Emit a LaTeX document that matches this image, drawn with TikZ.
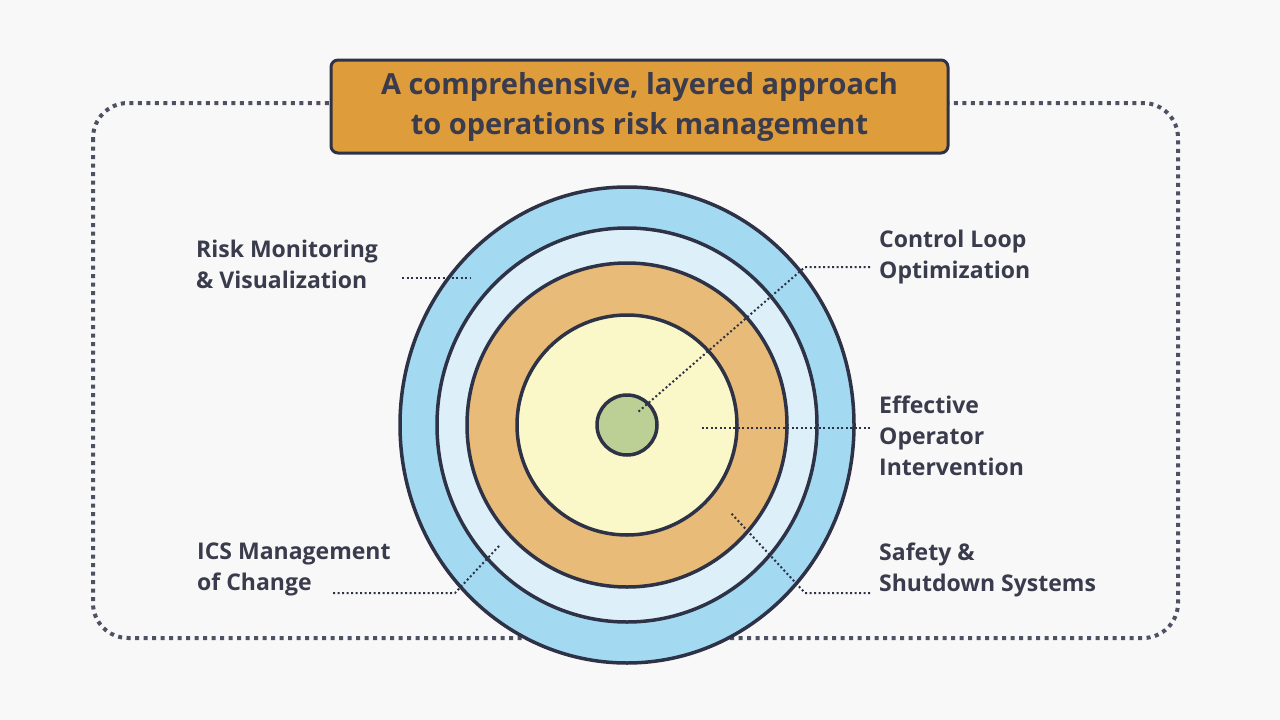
\documentclass[tikz,border=0pt]{standalone}
\usepackage{fontspec}
\setmainfont{Open Sans}
\definecolor{ink}{HTML}{2E3247}
\definecolor{txt}{HTML}{3A3B4C}
\definecolor{blueo}{HTML}{A4D9F2}
\definecolor{bluel}{HTML}{DDEFF8}
\definecolor{oran}{HTML}{E9BB78}
\definecolor{yell}{HTML}{FAF7C8}
\definecolor{gree}{HTML}{BCD095}
\definecolor{titl}{HTML}{DF9C3A}
\definecolor{bg}{HTML}{F8F8F8}
\begin{document}
\begin{tikzpicture}[x=1pt,y=-1pt,
  ring/.style={draw=ink,line width=3.5pt},
  lead/.style={draw=ink,line width=2pt,dash pattern=on 2pt off 2.5pt},
  lbl/.style={text=txt,font=\bfseries\fontsize{23}{31}\selectfont,align=left,inner sep=0pt}]
\fill[bg] (0,0) rectangle (1280,720);
\useasboundingbox (0,0) rectangle (1280,720);
\draw[draw=ink!85,line width=4pt,dash pattern=on 4pt off 4.5pt,rounded corners=35pt] (93,103) rectangle (1178,638);
\node[draw=ink,line width=3pt,fill=titl,rounded corners=7pt,minimum width=617pt,minimum height=93pt,align=center,text=txt,font=\bfseries\fontsize{29}{40}\selectfont] (title) at (639.5,106.5) {A comprehensive, layered approach\\to operations risk management};
\path[ring,fill=blueo] (627,425) ellipse [x radius=227,y radius=238];
\path[ring,fill=bluel] (627,425) ellipse [x radius=190,y radius=197];
\path[ring,fill=oran] (627,425) ellipse [x radius=160,y radius=162];
\path[ring,fill=yell] (627,425) ellipse [x radius=110,y radius=110];
\node[ring,fill=gree,circle,minimum size=60pt,inner sep=0pt] (core) at (627,425) {};
\coordinate (a1) at (402,278); \coordinate (a2) at (470,278);
\coordinate (b1) at (870,267); \coordinate (b2) at (805,267); \coordinate (b3) at (638,412);
\coordinate (c1) at (870,428); \coordinate (c2) at (700,428);
\coordinate (d1) at (870,593); \coordinate (d2) at (805,593); \coordinate (d3) at (730,512);
\coordinate (e1) at (333,593); \coordinate (e2) at (455,593); \coordinate (e3) at (500,545);
\draw[lead] (a1) -- (a2);
\draw[lead] (b1) -- (b2) -- (b3);
\draw[lead] (c1) -- (c2);
\draw[lead] (d1) -- (d2) -- (d3);
\draw[lead] (e1) -- (e2) -- (e3);
\node[lbl,anchor=north west] (l1) at (196,240) {Risk Monitoring\\\& Visualization};
\node[lbl,anchor=north west] (l2) at (879,230) {Control Loop\\Optimization};
\node[lbl,anchor=north west] (l3) at (879,396) {Effective\\Operator\\Intervention};
\node[lbl,anchor=north west] (l4) at (879,543) {Safety \&\\Shutdown Systems};
\node[lbl,anchor=north west] (l5) at (197,543) {ICS Management\\of Change};
\end{tikzpicture}
\end{document}
